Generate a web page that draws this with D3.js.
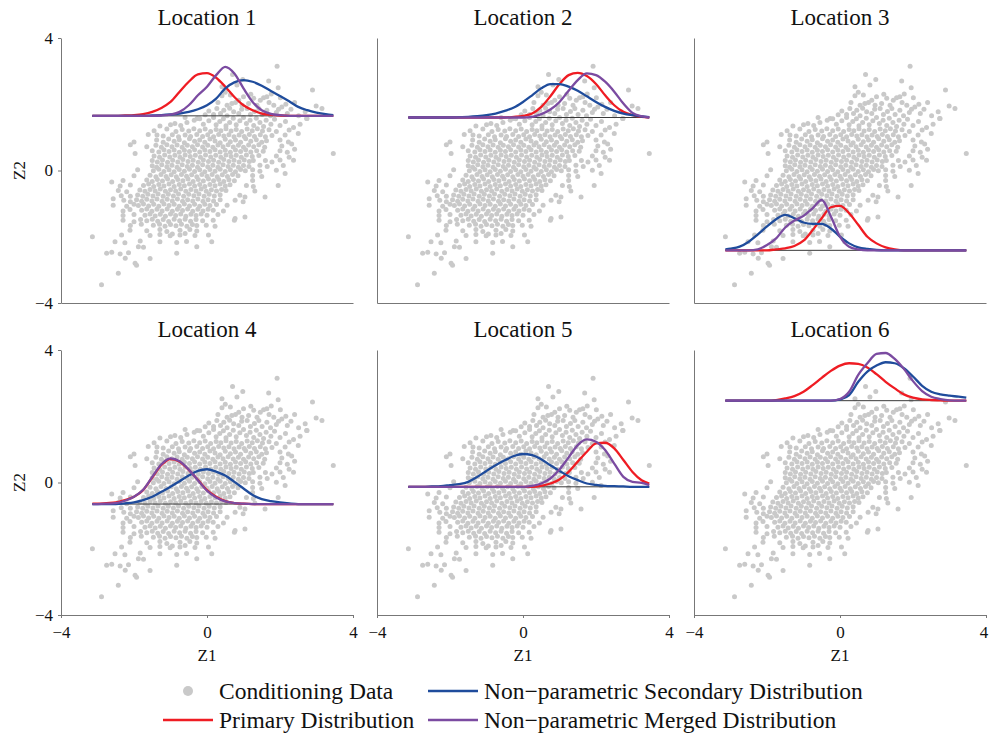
<!DOCTYPE html>
<html>
<head>
<meta charset="utf-8">
<script src="https://cdn.jsdelivr.net/npm/d3@7"></script>
<style>
  body { margin: 0; background: #fff; }
  svg { display: block; }
  svg text { font-family: "Liberation Serif", "Times New Roman", Times, "DejaVu Serif", serif; }
</style>
</head>
<body>
<div id="chart"></div>
<script>
// ---- data ----
const locations = ["Location 1", "Location 2", "Location 3", "Location 4", "Location 5", "Location 6"];
const tickValues = [-4, 0, 4];

// Z2 level of each location's horizontal baseline
const baselines = [1.65, 1.60, -2.41, -0.65, -0.13, 2.47];

// Z1 positions at which the distribution heights were read
const gridZ1 = [-3.14, -3, -2.75, -2.5, -2.25, -2, -1.75, -1.5, -1.25, -1, -0.75, -0.5, -0.25,
  0, 0.25, 0.5, 0.75, 1, 1.25, 1.5, 1.75, 2, 2.25, 2.5, 2.75, 3, 3.25, 3.46];

// heights above the baseline (Z2 units), one row per location
const primary = [
  [0, 0, 0, 0, 0.01, 0.02, 0.05, 0.12, 0.24, 0.42, 0.73, 1.03, 1.25, 1.29, 1.15, 0.88, 0.57, 0.32, 0.17, 0.07, 0.03, 0.01, 0, 0, 0, 0, 0, 0],
  [0, 0, 0, 0, 0, 0, 0, 0, 0, 0, 0, 0, 0.02, 0.05, 0.12, 0.32, 0.64, 1.01, 1.28, 1.35, 1.25, 1.01, 0.67, 0.37, 0.17, 0.07, 0.02, 0],
  [0, 0, 0, 0, 0, 0, 0.03, 0.06, 0.13, 0.29, 0.61, 0.97, 1.30, 1.34, 1.12, 0.77, 0.41, 0.21, 0.09, 0.03, 0, 0, 0, 0, 0, 0, 0, 0],
  [0.01, 0.01, 0.03, 0.05, 0.12, 0.22, 0.42, 0.80, 1.18, 1.36, 1.28, 1.03, 0.73, 0.42, 0.22, 0.09, 0.03, 0.01, 0, 0, 0, 0, 0, 0, 0, 0, 0, 0],
  [0, 0, 0, 0, 0, 0, 0, 0, 0, 0, 0, 0, 0, 0, 0, 0.03, 0.10, 0.22, 0.45, 0.76, 1.06, 1.31, 1.33, 1.16, 0.81, 0.45, 0.20, 0.10],
  [0, 0, 0, 0, 0, 0, 0.02, 0.07, 0.14, 0.27, 0.47, 0.69, 0.90, 1.06, 1.13, 1.11, 1.00, 0.80, 0.57, 0.37, 0.19, 0.09, 0.04, 0.02, 0.01, 0, 0, 0]
];
const secondary = [
  [0, 0, 0, 0, 0, 0, 0, 0.01, 0.02, 0.04, 0.07, 0.12, 0.20, 0.32, 0.52, 0.83, 1.01, 1.08, 1.03, 0.91, 0.75, 0.60, 0.44, 0.27, 0.17, 0.10, 0.05, 0.02],
  [0, 0, 0, 0, 0, 0, 0.01, 0.02, 0.04, 0.07, 0.12, 0.20, 0.30, 0.47, 0.67, 0.88, 1.01, 1.01, 0.93, 0.81, 0.64, 0.47, 0.32, 0.20, 0.12, 0.07, 0.03, 0.01],
  [0.03, 0.05, 0.11, 0.26, 0.48, 0.72, 0.94, 1.07, 0.97, 0.84, 0.80, 0.80, 0.66, 0.41, 0.21, 0.09, 0.04, 0.01, 0, 0, 0, 0, 0, 0, 0, 0, 0, 0],
  [0, 0, 0, 0, 0.02, 0.05, 0.12, 0.22, 0.37, 0.52, 0.69, 0.86, 1.00, 1.05, 0.98, 0.86, 0.67, 0.47, 0.27, 0.15, 0.09, 0.05, 0.02, 0, 0, 0, 0, 0],
  [0, 0, 0, 0.01, 0.02, 0.05, 0.08, 0.15, 0.30, 0.48, 0.65, 0.80, 0.93, 0.99, 0.96, 0.83, 0.65, 0.48, 0.32, 0.20, 0.10, 0.06, 0.03, 0.02, 0.01, 0, 0, 0],
  [0, 0, 0, 0, 0, 0, 0, 0, 0, 0, 0, 0, 0, 0.04, 0.17, 0.57, 0.88, 1.06, 1.16, 1.13, 0.98, 0.73, 0.45, 0.27, 0.19, 0.15, 0.12, 0.09]
];
const merged = [
  [0, 0, 0, 0, 0, 0, 0, 0, 0.01, 0.04, 0.12, 0.32, 0.62, 0.88, 1.23, 1.48, 1.28, 0.83, 0.42, 0.17, 0.06, 0.02, 0, 0, 0, 0, 0, 0],
  [0, 0, 0, 0, 0, 0, 0, 0, 0, 0, 0, 0, 0, 0, 0.02, 0.10, 0.24, 0.47, 0.81, 1.13, 1.33, 1.28, 1.08, 0.78, 0.42, 0.14, 0.04, 0],
  [0, 0, 0, 0, 0.03, 0.16, 0.36, 0.69, 0.90, 1.04, 1.27, 1.52, 1.02, 0.41, 0.11, 0.03, 0, 0, 0, 0, 0, 0, 0, 0, 0, 0, 0, 0],
  [0, 0, 0.01, 0.03, 0.10, 0.22, 0.43, 0.82, 1.20, 1.38, 1.29, 1.04, 0.72, 0.40, 0.20, 0.08, 0.03, 0.01, 0, 0, 0, 0, 0, 0, 0, 0, 0, 0],
  [0, 0, 0, 0, 0, 0, 0, 0, 0, 0, 0, 0, 0, 0, 0.03, 0.10, 0.25, 0.52, 0.89, 1.26, 1.43, 1.36, 1.11, 0.70, 0.30, 0.15, 0.12, 0.05],
  [0, 0, 0, 0, 0, 0, 0, 0, 0, 0, 0, 0, 0, 0.05, 0.27, 0.78, 1.13, 1.41, 1.44, 1.26, 0.96, 0.59, 0.29, 0.12, 0.05, 0.01, 0, 0]
];

// conditioning data [Z1, Z2], same cloud in every panel
const condPoints = [
  [1.92,3.15],[0.70,2.90],[0.98,2.75],[1.69,2.70],[0.41,2.53],[0.82,2.58],[1.95,2.50],[2.89,2.43],
  [0.50,2.36],[0.64,2.28],[0.41,2.26],[1.76,2.31],[1.64,2.23],[2.01,2.20],[1.00,2.23],[0.87,2.12],[0.78,2.05],[1.28,2.18],[1.46,2.12],[1.55,2.20],
  [0.68,2.02],[0.55,1.97],[0.96,1.97],[1.14,2.02],[1.37,1.97],[1.83,1.97],[2.16,2.00],[2.99,1.95],[3.15,1.87],
  [0.27,1.87],[0.46,1.82],[0.73,1.77],[1.10,1.87],[1.42,1.87],[1.64,1.82],[1.96,1.85],[2.05,1.92],[2.69,1.77],[2.51,1.65],
  [0.18,1.69],[0.37,1.72],[0.55,1.65],[0.87,1.72],[1.19,1.69],[1.51,1.69],[1.74,1.65],[-0.27,1.57],[2.74,1.57],
  [1.20,2.30],[0.30,2.05],[1.70,2.05],[2.30,1.85],[0.05,1.80],[1.30,1.78],[0.95,1.85],[2.20,1.72],[1.90,1.75],[0.62,1.88],[-0.05,1.68],[2.40,2.05],
  [-1.29,1.34],[-1.00,1.38],[-0.88,1.42],[-0.72,1.36],[-0.55,1.45],[-0.35,1.52],[-0.20,1.56],[-0.10,1.40],[0.05,1.50],[0.18,1.60],[0.25,1.38],
  [0.35,1.48],[0.45,1.56],[0.52,1.35],[0.62,1.45],[0.72,1.58],[0.80,1.38],[0.90,1.50],[1.00,1.60],[1.08,1.42],[1.18,1.52],[1.28,1.36],
  [1.35,1.58],[1.45,1.45],[1.55,1.33],[1.62,1.52],[1.75,1.40],[1.85,1.55],[2.00,1.36],[2.15,1.48],[2.37,1.30],[2.73,1.57],[2.55,1.40],[-0.60,1.60],
  [-1.45,1.20],[-1.10,1.25],[-0.85,1.18],[-0.68,1.24],[-0.50,1.19],[-0.36,1.26],[-0.20,1.20],[-0.05,1.25],[0.10,1.18],[0.25,1.24],[0.38,1.20],
  [0.52,1.26],[0.66,1.19],[0.80,1.24],[0.95,1.18],[1.10,1.25],[1.24,1.20],[1.38,1.26],[1.52,1.19],[1.70,1.23],[1.90,1.18],[2.25,1.22],
  [-1.61,1.09],[-1.37,1.07],[-1.20,1.04],[-0.95,1.08],[-0.78,1.02],[-0.60,1.07],[-0.45,1.03],[-0.28,1.09],[-0.12,1.03],[0.02,1.08],[0.18,1.02],
  [0.32,1.09],[0.46,1.04],[0.60,1.08],[0.74,1.02],[0.88,1.07],[1.02,1.03],[1.16,1.09],[1.30,1.03],[1.46,1.08],[1.60,1.02],[1.78,1.06],[2.14,1.07],[2.50,1.12],
  [-2.00,0.86],[-1.38,0.92],[-1.20,0.85],[-1.05,0.95],[-0.90,0.88],[-0.76,0.93],[-0.62,0.84],[-0.48,0.96],[-0.34,0.88],[-0.20,0.92],[-0.06,0.85],
  [0.08,0.95],[0.22,0.89],[0.36,0.84],[0.50,0.94],[0.64,0.87],[0.78,0.92],[0.92,0.85],[1.06,0.96],[1.20,0.88],[1.35,0.93],[1.50,0.85],[1.63,0.90],[2.00,0.92],[2.23,0.86],
  [-2.10,0.78],[-1.65,0.72],[-1.40,0.76],[-1.25,0.70],[-1.10,0.78],[-0.96,0.72],[-0.82,0.77],[-0.68,0.70],[-0.54,0.76],[-0.40,0.72],[-0.26,0.78],
  [-0.12,0.71],[0.02,0.76],[0.16,0.70],[0.30,0.77],[0.44,0.72],[0.58,0.78],[0.72,0.71],[0.86,0.76],[1.00,0.70],[1.14,0.77],[1.28,0.72],[1.42,0.78],[1.58,0.70],[2.05,0.74],[2.32,0.80],
  [-1.50,0.60],[-1.32,0.56],[-1.18,0.63],[-1.04,0.57],[-0.90,0.62],[-0.76,0.55],[-0.62,0.61],[-0.48,0.57],[-0.34,0.63],[-0.20,0.56],[-0.06,0.62],
  [0.08,0.57],[0.22,0.63],[0.36,0.56],[0.50,0.61],[0.64,0.55],[0.78,0.62],[0.92,0.57],[1.06,0.63],[1.20,0.56],[1.36,0.60],[1.54,0.58],[2.00,0.60],[2.20,0.55],[2.40,0.64],
  [-1.45,0.44],[-1.30,0.40],[-1.16,0.47],[-1.02,0.41],[-0.88,0.46],[-0.74,0.40],[-0.60,0.47],[-0.46,0.42],[-0.32,0.46],[-0.18,0.40],[-0.04,0.47],
  [0.10,0.41],[0.24,0.46],[0.38,0.40],[0.52,0.47],[0.66,0.42],[0.80,0.46],[0.94,0.40],[1.08,0.47],[1.24,0.42],[1.42,0.45],[1.90,0.44],[2.25,0.40],[3.46,0.51],[-1.97,0.51],
  [-1.50,0.30],[-1.36,0.26],[-1.22,0.32],[-1.08,0.25],[-0.94,0.31],[-0.80,0.26],[-0.66,0.33],[-0.52,0.27],[-0.38,0.31],[-0.24,0.25],[-0.10,0.32],
  [0.04,0.27],[0.18,0.31],[0.32,0.25],[0.46,0.33],[0.60,0.27],[0.74,0.31],[0.88,0.26],[1.02,0.32],[1.16,0.27],[1.27,0.30],[1.60,0.30],[1.78,0.26],[2.00,0.32],[2.37,0.31],
  [-1.50,0.14],[-1.38,0.10],[-1.24,0.17],[-1.10,0.11],[-0.96,0.16],[-0.82,0.10],[-0.68,0.17],[-0.54,0.12],[-0.40,0.16],[-0.26,0.10],[-0.12,0.17],
  [0.02,0.11],[0.16,0.16],[0.30,0.10],[0.44,0.17],[0.58,0.12],[0.72,0.16],[0.86,0.10],[1.00,0.15],[1.15,0.12],[1.45,0.16],[1.65,0.12],[2.09,0.15],
  [-1.90,0.02],[-1.47,-0.01],[-1.32,0.04],[-1.18,-0.03],[-1.04,0.02],[-0.90,-0.04],[-0.76,0.03],[-0.62,-0.02],[-0.48,0.04],[-0.34,-0.03],[-0.20,0.02],
  [-0.06,-0.04],[0.08,0.03],[0.22,-0.02],[0.36,0.04],[0.50,-0.03],[0.64,0.02],[0.78,-0.04],[0.92,0.03],[1.05,-0.01],[1.25,0.02],[1.45,-0.02],[1.90,0.01],[2.14,-0.09],
  [-2.00,-0.16],[-1.56,-0.14],[-1.40,-0.19],[-1.26,-0.12],[-1.12,-0.18],[-0.98,-0.13],[-0.84,-0.19],[-0.70,-0.12],[-0.56,-0.17],[-0.42,-0.13],
  [-0.28,-0.19],[-0.14,-0.12],[0.00,-0.17],[0.14,-0.12],[0.28,-0.19],[0.42,-0.13],[0.56,-0.18],[0.70,-0.12],[0.85,-0.16],[1.25,-0.15],[1.50,-0.18],
  [-2.61,-0.35],[-2.30,-0.30],[-1.65,-0.29],[-1.50,-0.33],[-1.36,-0.27],[-1.22,-0.32],[-1.08,-0.26],[-0.94,-0.33],[-0.80,-0.27],[-0.66,-0.31],[-0.52,-0.26],
  [-0.38,-0.33],[-0.24,-0.27],[-0.10,-0.32],[0.04,-0.26],[0.18,-0.31],[0.32,-0.27],[0.46,-0.33],[0.60,-0.28],[0.75,-0.31],[1.25,-0.30],[1.95,-0.45],
  [-2.38,-0.47],[-2.10,-0.44],[-1.74,-0.45],[-1.60,-0.41],[-1.46,-0.48],[-1.32,-0.42],[-1.18,-0.47],[-1.04,-0.41],[-0.90,-0.48],[-0.76,-0.42],[-0.62,-0.46],
  [-0.48,-0.41],[-0.34,-0.47],[-0.20,-0.42],[-0.06,-0.48],[0.08,-0.42],[0.22,-0.46],[0.36,-0.41],[0.50,-0.47],[0.63,-0.43],[1.08,-0.45],[1.27,-0.48],
  [-2.43,-0.60],[-2.20,-0.64],[-1.84,-0.59],[-1.70,-0.63],[-1.56,-0.57],[-1.42,-0.62],[-1.28,-0.56],[-1.14,-0.63],[-1.00,-0.58],[-0.86,-0.62],[-0.72,-0.56],
  [-0.58,-0.63],[-0.44,-0.57],[-0.30,-0.62],[-0.16,-0.56],[-0.02,-0.63],[0.12,-0.58],[0.26,-0.62],[0.40,-0.57],[0.52,-0.60],[1.31,-0.62],[1.59,-0.80],
  [-2.57,-0.85],[-2.35,-0.76],[-2.10,-0.78],[-1.90,-0.74],[-1.76,-0.78],[-1.62,-0.72],[-1.48,-0.77],[-1.34,-0.71],[-1.20,-0.78],[-1.06,-0.72],[-0.92,-0.77],
  [-0.78,-0.71],[-0.64,-0.78],[-0.50,-0.72],[-0.36,-0.76],[-0.22,-0.71],[-0.08,-0.78],[0.06,-0.72],[0.20,-0.77],[0.36,-0.73],[0.90,-0.75],[1.04,-0.80],
  [-2.28,-0.90],[-2.10,-0.94],[-1.93,-0.88],[-1.79,-0.93],[-1.65,-0.87],[-1.51,-0.92],[-1.37,-0.86],[-1.23,-0.93],[-1.09,-0.87],[-0.95,-0.92],[-0.81,-0.86],
  [-0.67,-0.93],[-0.53,-0.88],[-0.39,-0.92],[-0.25,-0.86],[-0.11,-0.93],[0.03,-0.88],[0.18,-0.92],[0.36,-0.88],[0.77,-0.90],[0.99,-0.94],
  [-2.57,-1.05],[-2.20,-1.08],[-2.00,-1.02],[-1.88,-1.06],[-1.74,-1.01],[-1.60,-1.07],[-1.46,-1.02],[-1.32,-1.08],[-1.18,-1.01],[-1.04,-1.06],
  [-0.90,-1.02],[-0.76,-1.08],[-0.62,-1.01],[-0.48,-1.07],[-0.34,-1.02],[-0.20,-1.08],[-0.06,-1.02],[0.08,-1.06],[0.26,-1.03],[0.55,-1.05],
  [-2.30,-1.22],[-2.11,-1.18],[-1.79,-1.20],[-1.65,-1.16],[-1.51,-1.23],[-1.37,-1.17],[-1.23,-1.22],[-1.09,-1.16],[-0.95,-1.23],[-0.81,-1.17],
  [-0.67,-1.21],[-0.53,-1.16],[-0.39,-1.23],[-0.25,-1.17],[-0.11,-1.22],[0.03,-1.17],[0.17,-1.20],[0.45,-1.22],[1.04,-1.40],[0.77,-1.45],
  [-2.30,-1.36],[-2.00,-1.33],[-1.70,-1.35],[-1.56,-1.31],[-1.42,-1.37],[-1.28,-1.32],[-1.14,-1.38],[-1.00,-1.31],[-0.86,-1.36],[-0.72,-1.31],
  [-0.58,-1.38],[-0.44,-1.32],[-0.30,-1.36],[-0.16,-1.31],[0.00,-1.35],[0.30,-1.33],
  [-2.30,-1.50],[-2.00,-1.55],[-1.82,-1.48],[-1.65,-1.52],[-1.50,-1.47],[-1.35,-1.53],[-1.20,-1.48],[-1.05,-1.54],[-0.90,-1.47],[-0.75,-1.52],
  [-0.60,-1.47],[-0.45,-1.53],[-0.30,-1.48],[-0.12,-1.52],[0.17,-1.50],[0.75,-1.50],
  [-2.10,-1.66],[-1.80,-1.62],[-1.47,-1.65],[-1.30,-1.62],[-1.15,-1.68],[-1.00,-1.63],[-0.85,-1.67],[-0.70,-1.62],[-0.55,-1.68],[-0.40,-1.63],
  [-0.28,-1.66],[-0.02,-1.65],[0.22,-1.68],
  [-2.11,-1.80],[-1.65,-1.82],[-1.29,-1.78],[-1.10,-1.84],[-0.74,-1.80],[-0.47,-1.78],[-0.28,-1.83],[-0.60,-1.90],[-0.95,-1.92],
  [-3.14,-2.00],[-2.34,-1.95],[-1.56,-1.96],[-1.29,-1.93],[-1.01,-1.97],[-0.74,-1.95],[-0.33,-1.96],[0.04,-1.95],
  [-2.52,-2.15],[-2.25,-2.18],[-1.83,-2.13],[-1.29,-2.15],[-0.83,-2.17],[-0.56,-2.14],[0.13,-2.15],
  [-1.88,-2.30],[-1.74,-2.32],[-0.28,-2.30],
  [-2.75,-2.50],[-2.61,-2.47],[-2.38,-2.52],[-2.15,-2.48],[-0.83,-2.50],
  [-2.24,-2.65],[-1.56,-2.66],[-1.97,-2.80],[-1.93,-2.86],[-2.43,-3.10],[-2.89,-3.45]
];

const seriesColors = { primary: "#ef1c23", secondary: "#1f4c9c", merged: "#7b4ba1" };
const pointColor = "#c9c9c9";

// ---- layout ----
const width = 989, height = 736;
const panelLeft = [61, 377, 694];
const panelTop = [38, 350];
const pw = 292, ph = 265;

const svg = d3.select("#chart").append("svg")
  .attr("width", width)
  .attr("height", height);

locations.forEach(function(name, i) {
  const col = i % 3, row = Math.floor(i / 3);
  const x0 = panelLeft[col], y0 = panelTop[row];
  const x = d3.scaleLinear().domain([-4, 4]).range([x0, x0 + pw]);
  const y = d3.scaleLinear().domain([-4, 4]).range([y0 + ph, y0]);
  const g = svg.append("g");

  // axes
  const yAxis = d3.axisLeft(y)
    .tickValues(col === 0 ? tickValues : [])
    .tickSize(3).tickSizeOuter(0).tickPadding(5);
  const xAxis = d3.axisBottom(x)
    .tickValues(row === 1 ? tickValues : [])
    .tickSize(3).tickSizeOuter(0).tickPadding(8);

  const ya = g.append("g").attr("transform", `translate(${x0},0)`).call(yAxis);
  const xa = g.append("g").attr("transform", `translate(0,${y0 + ph})`).call(xAxis);
  [ya, xa].forEach(function(a) {
    a.attr("font-family", null).attr("font-size", 17);
    a.select(".domain").attr("stroke", "#777");
    a.selectAll(".tick line").attr("stroke", "#777");
    a.selectAll(".tick text").attr("fill", "#111");
  });
  // keep the last "4" inside the picture
  if (col === 2) {
    xa.selectAll(".tick text").filter(d => d === 4).attr("text-anchor", "end").attr("dx", "0.1em");
  }

  // title
  g.append("text")
    .attr("x", x(0)).attr("y", y0 - 13)
    .attr("text-anchor", "middle")
    .attr("font-size", 23)
    .attr("fill", "#111")
    .text(name);

  if (col === 0) {
    g.append("text")
      .attr("transform", `translate(25,${y(0)}) rotate(-90)`)
      .attr("text-anchor", "middle")
      .attr("font-size", 17)
      .attr("fill", "#111")
      .text("Z2");
  }
  if (row === 1) {
    g.append("text")
      .attr("x", x(0)).attr("y", 661)
      .attr("text-anchor", "middle")
      .attr("font-size", 17)
      .attr("fill", "#111")
      .text("Z1");
  }

  // conditioning data
  g.append("g").selectAll("circle")
    .data(condPoints)
    .join("circle")
    .attr("cx", d => x(d[0]))
    .attr("cy", d => y(d[1]))
    .attr("r", 2.5)
    .attr("fill", pointColor);

  // baseline
  const base = baselines[i];
  g.append("line")
    .attr("x1", x(gridZ1[0])).attr("x2", x(gridZ1[gridZ1.length - 1]))
    .attr("y1", y(base)).attr("y2", y(base))
    .attr("stroke", "#3a3a3a").attr("stroke-width", 1);

  // distributions drawn on top of the baseline
  const line = d3.line()
    .x((d, k) => x(gridZ1[k]))
    .y(d => y(base + d))
    .curve(d3.curveMonotoneX);

  [["primary", primary], ["secondary", secondary], ["merged", merged]].forEach(function(s) {
    g.append("path")
      .datum(s[1][i])
      .attr("d", line)
      .attr("fill", "none")
      .attr("stroke", seriesColors[s[0]])
      .attr("stroke-width", 2.3)
      .attr("stroke-linejoin", "round");
  });
});

// ---- legend ----
const legendItems = [
  { label: "Conditioning Data", type: "point", color: pointColor, x: 163, y: 691 },
  { label: "Non\u2212parametric Secondary Distribution", type: "line", color: seriesColors.secondary, x: 428, y: 691 },
  { label: "Primary Distribution", type: "line", color: seriesColors.primary, x: 163, y: 720 },
  { label: "Non\u2212parametric Merged Distribution", type: "line", color: seriesColors.merged, x: 428, y: 720 }
];

const legend = svg.append("g");
legendItems.forEach(function(d) {
  if (d.type === "point") {
    legend.append("circle")
      .attr("cx", d.x + 25).attr("cy", d.y).attr("r", 5)
      .attr("fill", d.color);
  } else {
    legend.append("line")
      .attr("x1", d.x).attr("x2", d.x + 50)
      .attr("y1", d.y).attr("y2", d.y)
      .attr("stroke", d.color).attr("stroke-width", 2.5);
  }
  legend.append("text")
    .attr("x", d.x + 56).attr("y", d.y + 8)
    .attr("font-size", 23.5)
    .attr("fill", "#111")
    .text(d.label);
});
</script>
</body>
</html>
